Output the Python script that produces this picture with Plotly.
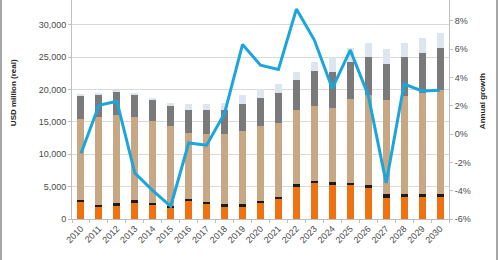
import plotly.graph_objects as go

years = [str(y) for y in range(2010, 2031)]

# USD million (real), stacked segments bottom -> top
seg_orange = [2700, 1950, 2150, 2600, 2250, 1800, 2780, 2350, 1900, 1900, 2400, 3050, 4950, 5550, 5350, 5200, 4750, 3300, 3400, 3400, 3400]
seg_black = [300, 200, 250, 300, 280, 250, 250, 300, 350, 450, 350, 350, 450, 350, 300, 350, 450, 500, 500, 500, 500]
seg_tan = [12400, 13650, 13700, 12900, 12620, 12350, 10320, 10450, 10800, 11200, 11600, 11500, 11400, 11500, 11550, 12950, 14000, 14550, 15100, 15600, 16000]
seg_gray = [3600, 3500, 3650, 3500, 3300, 3200, 3550, 3800, 3850, 4250, 4350, 4500, 4600, 5400, 5500, 5800, 5750, 5650, 5950, 6200, 6550]
seg_light = [300, 200, 150, 100, 150, 250, 800, 800, 1000, 1300, 1300, 1500, 1300, 1500, 2250, 2100, 2250, 2300, 2250, 2300, 2350]

# Annual growth (%)
growth = [-1.37, 2.04, 2.32, -2.75, -4.0, -5.1, -0.63, -0.79, 1.47, 6.33, 4.87, 4.57, 8.83, 6.64, 3.22, 5.93, 2.75, -3.45, 3.53, 3.05, 3.1]

left_ticks = [0, 5000, 10000, 15000, 20000, 25000, 30000]
right_ticks = [-6, -4, -2, 0, 2, 4, 6, 8]
right_labels = ["-6%", "-4%", "-2%", "0%", "2%", "4%", "6%", "8%"]

colors = ["#EE7212", "#1E1A17", "#C8A784", "#7A7A7A", "#DDE6EF"]
series = [seg_orange, seg_black, seg_tan, seg_gray, seg_light]
names = ["a", "b", "c", "d", "e"]

fig = go.Figure()
for s, c, n in zip(series, colors, names):
    fig.add_trace(go.Bar(x=years, y=s, marker=dict(color=c, line=dict(width=0)),
                         name=n, showlegend=False))

fig.add_trace(go.Scatter(x=years, y=growth, yaxis="y2", mode="lines",
                         line=dict(color="#1AA6DC", width=3), showlegend=False))

tickfont = dict(family="Liberation Sans, Arial, sans-serif", size=9, color="#4A4A4A")

fig.update_layout(
    width=500, height=260,
    margin=dict(l=72, r=51, t=0, b=41),
    paper_bgcolor="white", plot_bgcolor="white",
    barmode="stack", bargap=0.61,
    xaxis=dict(type="category", tickangle=-45, tickfont=tickfont,
               showline=True, linecolor="#BFBFBF", linewidth=1,
               ticks="outside", ticklen=3, tickcolor="#BFBFBF", tickson="boundaries",
               showgrid=False, zeroline=False),
    yaxis=dict(range=[0, 33818], tickvals=left_ticks, tickformat=",",
               tickfont=tickfont, showgrid=True, gridcolor="#D9D9D9", gridwidth=1,
               showline=True, linecolor="#BFBFBF", linewidth=1,
               ticks="outside", ticklen=3, tickcolor="#BFBFBF", zeroline=False),
    yaxis2=dict(range=[-6, 9.47], tickvals=right_ticks, ticktext=right_labels,
                overlaying="y", side="right", tickfont=tickfont,
                showgrid=False, zeroline=False,
                showline=True, linecolor="#BFBFBF", linewidth=1,
                ticks="outside", ticklen=3, tickcolor="#BFBFBF"),
    annotations=[
        dict(text="<b>USD million (real)</b>", textangle=-90, xref="paper", yref="paper",
             x=(13 - 72) / 377, y=(218.7 - 93) / 218.7, xanchor="center", yanchor="middle",
             showarrow=False, font=dict(family="Liberation Sans, Arial, sans-serif", size=8, color="#262626")),
        dict(text="<b>Annual growth</b>", textangle=-90, xref="paper", yref="paper",
             x=(482 - 72) / 377, y=(218.7 - 101) / 218.7, xanchor="center", yanchor="middle",
             showarrow=False, font=dict(family="Liberation Sans, Arial, sans-serif", size=8, color="#262626")),
    ],
    shapes=[
        dict(type="line", xref="paper", yref="paper", x0=(1 - 72) / 377, x1=(1 - 72) / 377,
             y0=-41.3 / 218.7, y1=1, line=dict(color="#A6A6A6", width=2)),
        dict(type="line", xref="paper", yref="paper", x0=(497 - 72) / 377, x1=(497 - 72) / 377,
             y0=-41.3 / 218.7, y1=1, line=dict(color="#A6A6A6", width=2)),
    ],
)

fig.write_html("out.html")
